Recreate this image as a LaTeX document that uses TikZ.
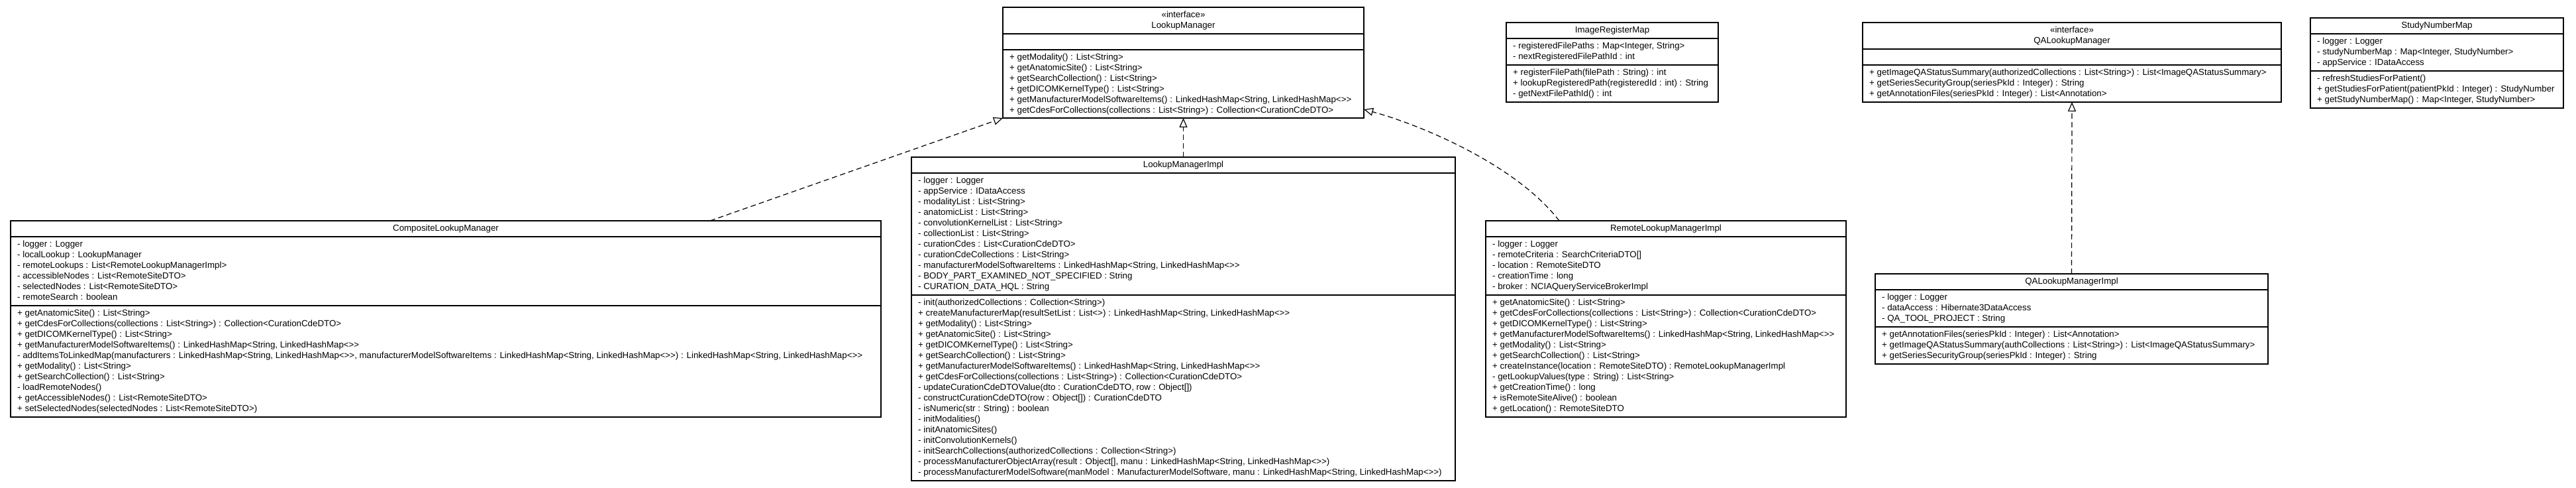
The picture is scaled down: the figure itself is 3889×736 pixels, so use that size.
\documentclass[tikz,border=0pt]{standalone}
\usepackage{fontspec}
\setmainfont{Liberation Sans}[Ligatures=TeXOff]
\usetikzlibrary{calc,arrows.meta}
\newcommand\umlfont{\fontsize{13.3}{16}\selectfont}
\tikzset{
  umlbox/.style={draw, line width=1.4pt, anchor=north west, outer sep=0pt, inner sep=0pt},
  umlsep/.style={line width=1.4pt},
  umltitle/.style={anchor=north, inner sep=0pt, align=center, font=\umlfont},
  umltext/.style={anchor=north west, inner sep=0pt, align=left, font=\umlfont},
  realize/.style={line width=1.2pt, dash pattern=on 8pt off 5pt,
    -{Triangle[open,length=14pt,width=12pt,line width=1.2pt]}}
}
% #1 name, #2 x, #3 y, #4 width, #5 height, #6 title
\newcommand\umlclass[6]{%
  \node[umlbox, minimum width=#4pt, minimum height=#5pt] (#1) at (#2,#3) {};
  \node[umltitle] (#1-title) at ($(#1.north)+(0,3.8)$) {\strut #6};
}
% #1 class name, #2 offset of compartment top, #3 node suffix, #4 lines
\newcommand\umlcomp[4]{%
  \draw[umlsep] ($(#1.north west)+(0,#2)$) -- ($(#1.north east)+(0,#2)$);
  \node[umltext] (#1-#3) at ($(#1.north west)+(10,#2+3.8)$) {\strut #4};
}
\newcommand\umlsep[2]{%
  \draw[umlsep] ($(#1.north west)+(0,#2)$) -- ($(#1.north east)+(0,#2)$);
}
\begin{document}
\begin{tikzpicture}[x=1pt,y=-1pt]
\fill[white] (0,0) rectangle (3889,736);
\useasboundingbox (0,0) rectangle (3889,736);

% LookupManager (interface)
\umlclass{lm}{1514}{11}{545}{167}{«interface»\\LookupManager}
\umlsep{lm}{40}
\umlcomp{lm}{64}{ops}{+ getModality() : List<String>\\
+ getAnatomicSite() : List<String>\\
+ getSearchCollection() : List<String>\\
+ getDICOMKernelType() : List<String>\\
+ getManufacturerModelSoftwareItems() : LinkedHashMap<String, LinkedHashMap<>>\\
+ getCdesForCollections(collections : List<String>) : Collection<CurationCdeDTO>}

% ImageRegisterMap
\umlclass{irm}{2274}{34}{320}{120}{ImageRegisterMap}
\umlcomp{irm}{24}{attrs}{- registeredFilePaths : Map<Integer, String>\\
- nextRegisteredFilePathId : int}
\umlcomp{irm}{64}{ops}{+ registerFilePath(filePath : String) : int\\
+ lookupRegisteredPath(registeredId : int) : String\\
- getNextFilePathId() : int}

% QALookupManager (interface)
\umlclass{qalm}{2812}{34}{632}{120}{«interface»\\QALookupManager}
\umlsep{qalm}{40}
\umlcomp{qalm}{64}{ops}{+ getImageQAStatusSummary(authorizedCollections : List<String>) : List<ImageQAStatusSummary>\\
+ getSeriesSecurityGroup(seriesPkId : Integer) : String\\
+ getAnnotationFiles(seriesPkId : Integer) : List<Annotation>}

% StudyNumberMap
\umlclass{snm}{3488}{27}{382}{136}{StudyNumberMap}
\umlcomp{snm}{24}{attrs}{- logger : Logger\\
- studyNumberMap : Map<Integer, StudyNumber>\\
- appService : IDataAccess}
\umlcomp{snm}{80}{ops}{- refreshStudiesForPatient()\\
+ getStudiesForPatient(patientPkId : Integer) : StudyNumber\\
+ getStudyNumberMap() : Map<Integer, StudyNumber>}

% CompositeLookupManager
\umlclass{comp}{16}{333}{1314}{296}{CompositeLookupManager}
\umlcomp{comp}{24}{attrs}{- logger : Logger\\
- localLookup : LookupManager\\
- remoteLookups : List<RemoteLookupManagerImpl>\\
- accessibleNodes : List<RemoteSiteDTO>\\
- selectedNodes : List<RemoteSiteDTO>\\
- remoteSearch : boolean}
\umlcomp{comp}{128}{ops}{+ getAnatomicSite() : List<String>\\
+ getCdesForCollections(collections : List<String>) : Collection<CurationCdeDTO>\\
+ getDICOMKernelType() : List<String>\\
+ getManufacturerModelSoftwareItems() : LinkedHashMap<String, LinkedHashMap<>>\\
- addItemsToLinkedMap(manufacturers : LinkedHashMap<String, LinkedHashMap<>>, manufacturerModelSoftwareItems : LinkedHashMap<String, LinkedHashMap<>>) : LinkedHashMap<String, LinkedHashMap<>>\\
+ getModality() : List<String>\\
+ getSearchCollection() : List<String>\\
- loadRemoteNodes()\\
+ getAccessibleNodes() : List<RemoteSiteDTO>\\
+ setSelectedNodes(selectedNodes : List<RemoteSiteDTO>)}

% LookupManagerImpl
\umlclass{lmi}{1376}{237}{821}{488}{LookupManagerImpl}
\umlcomp{lmi}{24}{attrs}{- logger : Logger\\
- appService : IDataAccess\\
- modalityList : List<String>\\
- anatomicList : List<String>\\
- convolutionKernelList : List<String>\\
- collectionList : List<String>\\
- curationCdes : List<CurationCdeDTO>\\
- curationCdeCollections : List<String>\\
- manufacturerModelSoftwareItems : LinkedHashMap<String, LinkedHashMap<>>\\
- BODY\_PART\_EXAMINED\_NOT\_SPECIFIED : String\\
- CURATION\_DATA\_HQL : String}
\umlcomp{lmi}{208}{ops}{- init(authorizedCollections : Collection<String>)\\
+ createManufacturerMap(resultSetList : List<>) : LinkedHashMap<String, LinkedHashMap<>>\\
+ getModality() : List<String>\\
+ getAnatomicSite() : List<String>\\
+ getDICOMKernelType() : List<String>\\
+ getSearchCollection() : List<String>\\
+ getManufacturerModelSoftwareItems() : LinkedHashMap<String, LinkedHashMap<>>\\
+ getCdesForCollections(collections : List<String>) : Collection<CurationCdeDTO>\\
- updateCurationCdeDTOValue(dto : CurationCdeDTO, row : Object[])\\
- constructCurationCdeDTO(row : Object[]) : CurationCdeDTO\\
- isNumeric(str : String) : boolean\\
- initModalities()\\
- initAnatomicSites()\\
- initConvolutionKernels()\\
- initSearchCollections(authorizedCollections : Collection<String>)\\
- processManufacturerObjectArray(result : Object[], manu : LinkedHashMap<String, LinkedHashMap<>>)\\
- processManufacturerModelSoftware(manModel : ManufacturerModelSoftware, manu : LinkedHashMap<String, LinkedHashMap<>>)}

% RemoteLookupManagerImpl
\umlclass{rlmi}{2243}{333}{544}{296}{RemoteLookupManagerImpl}
\umlcomp{rlmi}{24}{attrs}{- logger : Logger\\
- remoteCriteria : SearchCriteriaDTO[]\\
- location : RemoteSiteDTO\\
- creationTime : long\\
- broker : NCIAQueryServiceBrokerImpl}
\umlcomp{rlmi}{112}{ops}{+ getAnatomicSite() : List<String>\\
+ getCdesForCollections(collections : List<String>) : Collection<CurationCdeDTO>\\
+ getDICOMKernelType() : List<String>\\
+ getManufacturerModelSoftwareItems() : LinkedHashMap<String, LinkedHashMap<>>\\
+ getModality() : List<String>\\
+ getSearchCollection() : List<String>\\
+ createInstance(location : RemoteSiteDTO) : RemoteLookupManagerImpl\\
- getLookupValues(type : String) : List<String>\\
+ getCreationTime() : long\\
+ isRemoteSiteAlive() : boolean\\
+ getLocation() : RemoteSiteDTO}

% QALookupManagerImpl
\umlclass{qalmi}{2831}{413}{593}{136}{QALookupManagerImpl}
\umlcomp{qalmi}{24}{attrs}{- logger : Logger\\
- dataAccess : Hibernate3DataAccess\\
- QA\_TOOL\_PROJECT : String}
\umlcomp{qalmi}{80}{ops}{+ getAnnotationFiles(seriesPkId : Integer) : List<Annotation>\\
+ getImageQAStatusSummary(authCollections : List<String>) : List<ImageQAStatusSummary>\\
+ getSeriesSecurityGroup(seriesPkId : Integer) : String}

% realizations
\coordinate (compTop) at ($(comp.north west)+(1056,0)$);
\coordinate (rlmiTop) at ($(rlmi.north west)+(111,0)$);
\coordinate (lmRight) at ($(lm.south east)+(0,-13)$);
\draw[realize] (compTop) -- (lm.south west);
\draw[realize] (lmi.north) -- (lm.south);
\draw[realize] (rlmiTop) .. controls +(-64,-83) and +(91,25) .. (lmRight);
\draw[realize] (qalmi.north) -- (qalm.south);
\end{tikzpicture}
\end{document}
